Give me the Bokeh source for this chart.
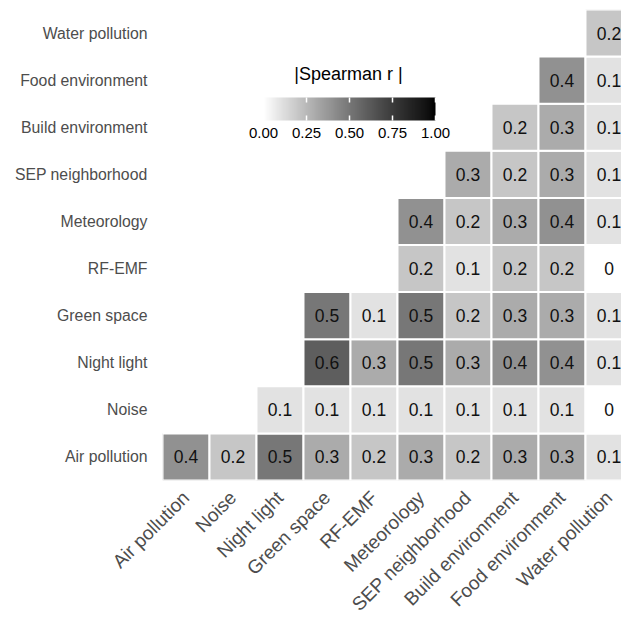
import math

from bokeh.core.properties import value
from bokeh.embed import file_html
from bokeh.models import (ColorBar, ColumnDataSource, FixedTicker, Label,
                          LinearColorMapper, PrintfTickFormatter, Range1d)
from bokeh.plotting import figure
from bokeh.resources import INLINE

# Exposure groups, used for both axes (bottom-to-top on y, left-to-right on x)
exposures = ["Air pollution", "Noise", "Night light", "Green space", "RF-EMF",
             "Meteorology", "SEP neighborhood", "Build environment",
             "Food environment", "Water pollution"]

# |Spearman r| for each row; each list runs from its first filled column
# (index given in row_start) to the right-most column.
row_start = [0, 2, 3, 3, 5, 5, 6, 7, 8, 9]
air_pollution = [0.4, 0.2, 0.5, 0.3, 0.2, 0.3, 0.2, 0.3, 0.3, 0.1]
noise = [0.1, 0.1, 0.1, 0.1, 0.1, 0.1, 0.1, 0.0]
night_light = [0.6, 0.3, 0.5, 0.3, 0.4, 0.4, 0.1]
green_space = [0.5, 0.1, 0.5, 0.2, 0.3, 0.3, 0.1]
rf_emf = [0.2, 0.1, 0.2, 0.2, 0.0]
meteorology = [0.4, 0.2, 0.3, 0.4, 0.1]
sep_neighborhood = [0.3, 0.2, 0.3, 0.1]
build_environment = [0.2, 0.3, 0.1]
food_environment = [0.4, 0.1]
water_pollution = [0.2]

rows = [air_pollution, noise, night_light, green_space, rf_emf, meteorology,
        sep_neighborhood, build_environment, food_environment, water_pollution]

colorbar_ticks = [0.0, 0.25, 0.5, 0.75, 1.0]

FONT = "Liberation Sans"


def grey(v):
    """White-to-black gradient interpolated on CIE L* (as ggplot does)."""
    L = 100.0 * (1.0 - v)
    fy = (L + 16.0) / 116.0
    Y = fy ** 3 if fy ** 3 > 0.008856 else (L / 903.3)
    c = 12.92 * Y if Y <= 0.0031308 else 1.055 * Y ** (1 / 2.4) - 0.055
    g = max(0, min(255, int(round(c * 255))))
    return "#{0:02x}{0:02x}{0:02x}".format(g)


xs, ys, rs, cols, labels = [], [], [], [], []
for yi, (start, vals) in enumerate(zip(row_start, rows)):
    for k, r in enumerate(vals):
        xs.append(start + k)
        ys.append(yi)
        rs.append(r)
        cols.append(grey(r))
        labels.append("0" if r == 0 else "{:g}".format(r))

src = ColumnDataSource(dict(x=xs, y=ys, r=rs, color=cols, label=labels))

W, H = 621, 625
p = figure(width=W, height=H, output_backend="svg", toolbar_location=None,
           x_range=Range1d(-0.5, 9.266), y_range=Range1d(-0.5, 9.5),
           min_border_left=162, min_border_right=0, min_border_top=9,
           min_border_bottom=145)
p.outline_line_color = None
p.background_fill_color = "white"
p.border_fill_color = "white"
p.xgrid.visible = False
p.ygrid.visible = False

p.rect(x="x", y="y", width=1, height=1, source=src, fill_color="color",
       line_color="white", line_width=2)
p.text(x="x", y="y", text="label", source=src, text_align="center",
       text_baseline="middle", text_font=value(FONT), text_font_size="17.5px",
       text_color="#111111")

for ax in (p.xaxis[0], p.yaxis[0]):
    ax.ticker = FixedTicker(ticks=list(range(len(exposures))))
    ax.major_label_overrides = {i: n for i, n in enumerate(exposures)}
    ax.axis_line_color = None
    ax.major_tick_line_color = None
    ax.minor_tick_line_color = None
    ax.major_tick_out = 0
    ax.major_tick_in = 0
    ax.major_label_text_font = FONT
    ax.major_label_text_color = "#4d4d4d"

p.yaxis.major_label_text_font_size = "15.8px"
p.yaxis.major_label_standoff = 15
p.xaxis.major_label_text_font_size = "19px"
p.xaxis.major_label_standoff = 14
p.xaxis.major_label_orientation = math.pi / 4

mapper = LinearColorMapper(palette=[grey(i / 255) for i in range(256)],
                           low=0, high=1)
cb = ColorBar(color_mapper=mapper, orientation="horizontal", width=172,
              height=23, location=(101, 340), padding=0,
              ticker=FixedTicker(ticks=colorbar_ticks),
              formatter=PrintfTickFormatter(format="%.2f"),
              major_tick_in=23, major_tick_out=0,
              major_tick_line_color="white", major_tick_line_width=1.5,
              major_tick_line_dash="5 13",
              minor_tick_line_color=None, bar_line_color=None,
              border_line_color=None, background_fill_alpha=0,
              label_standoff=7, major_label_text_font=FONT,
              major_label_text_font_size="15px",
              major_label_text_color="black")
p.add_layout(cb, "center")

p.add_layout(Label(x=186, y=407, x_units="screen", y_units="screen",
                   text="|Spearman r |", text_align="center",
                   text_baseline="middle", text_font=FONT,
                   text_font_size="18px", text_color="black"))

open("out.html", "w").write(file_html(p, INLINE))
